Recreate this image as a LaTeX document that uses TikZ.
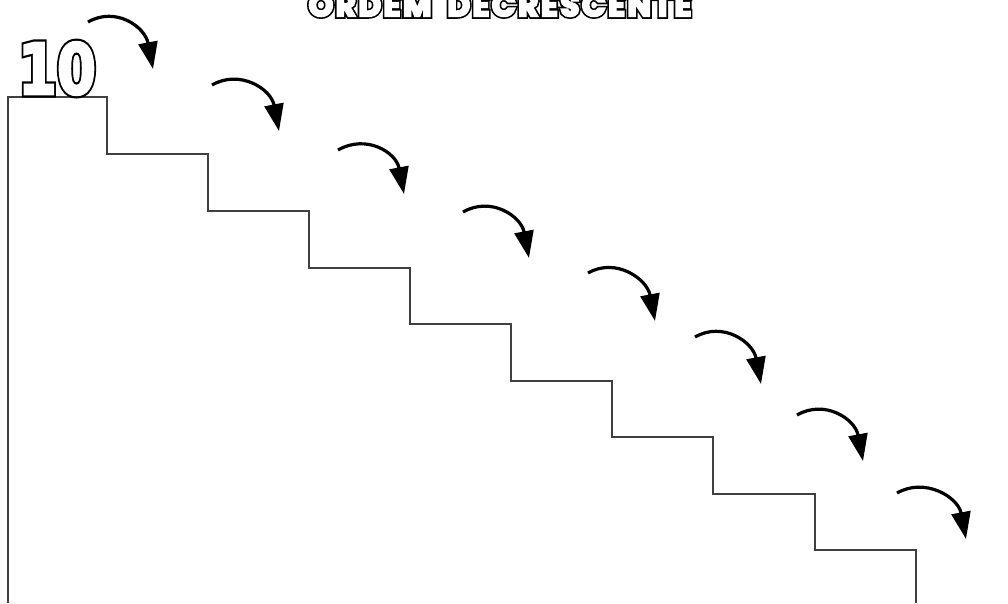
\documentclass[tikz,border=0pt]{standalone}
\usepackage{fontspec}
\usetikzlibrary{arrows.meta}
\newfontfamily\titlefont{Poppins}[UprightFont=* Bold]
\newfontfamily\numfont{DejaVu Sans}[UprightFont=* Bold]
\tikzset{
  stair/.style={draw=black!75, line width=1.6pt, line join=miter},
  jump/.style={line width=3.2pt, -{Triangle[length=27pt,width=19pt]}, black},
  outlined/.style={inner sep=0pt, anchor=base}
}
% heavy white letters with a black outline: #1 outer stroke, #2 inner stroke
\newcommand{\heavy}[3]{\makebox[0pt][l]{\special{pdf:code q 2 Tr #1 w 0 G 0 g}#3\special{pdf:code Q}}\special{pdf:code q 2 Tr #2 w 1 G 1 g}#3\special{pdf:code Q}}
\newcommand{\tk}{\kern2.6pt}
\begin{document}
\begin{tikzpicture}[x=1pt,y=-1pt]
\useasboundingbox[fill=white] (0,0) rectangle (1008,603);
% staircase
\draw[stair] (8,603) -- (8,97) -- (107,97) -- (107,154) -- (208,154) -- (208,211)
  -- (309,211) -- (309,268) -- (410,268) -- (410,324) -- (511,324) -- (511,381)
  -- (612,381) -- (612,437) -- (713,437) -- (713,494) -- (815,494) -- (815,550)
  -- (916,550) -- (916,603);
% title
\node[outlined] (title) at (500,16) {\titlefont\fontsize{31}{31}\selectfont\heavy{5.5}{2.2}{O\tk R\tk D\tk E\tk M\kern16pt D\tk E\tk C\tk R\tk E\tk S\tk C\tk E\tk N\tk T\tk E}};
% number 10
\node[outlined] (ten) at (57,94) {\scalebox{0.8}[1]{\numfont\fontsize{70}{70}\selectfont\heavy{7}{2.5}{10}}};
% arrows
\foreach \i/\sx/\sy/\tx/\ty in {1/88/22/153/69, 2/212/85/279/131, 3/338/150/404/194,
  4/463/212/529/258, 5/588/273/655/321, 6/695/337/761/384, 7/797/415/863/461, 8/897/493/966/539}{
  \coordinate (s\i) at (\sx,\sy);
  \coordinate (t\i) at (\tx,\ty);
  \draw[jump] (s\i) .. controls +(28,-16) and +(-8,-42) .. (t\i);
}
\end{tikzpicture}
\end{document}
